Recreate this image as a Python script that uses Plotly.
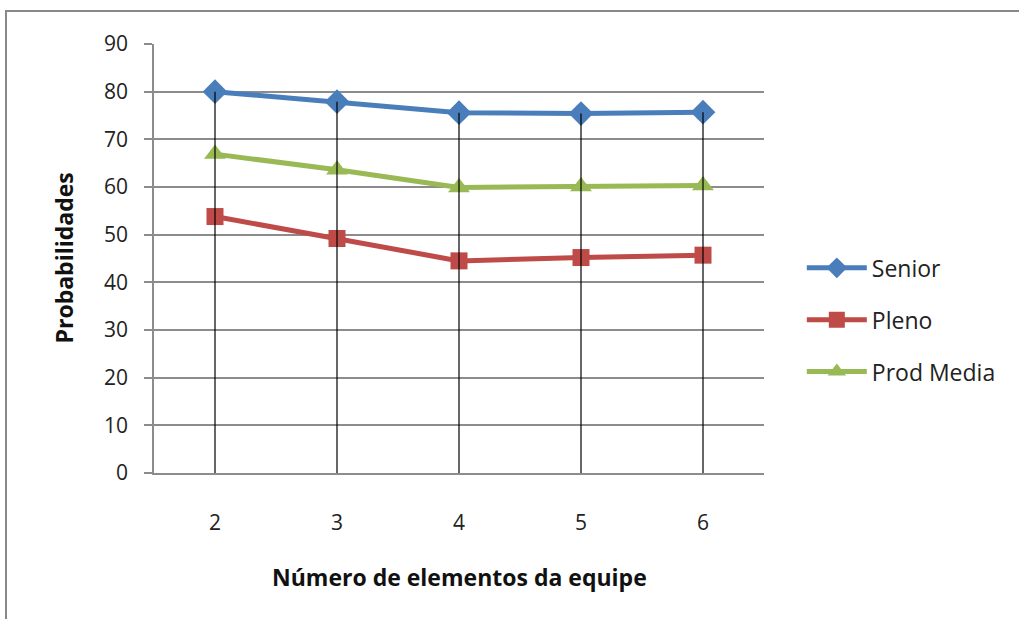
import plotly.graph_objects as go

categories = ["2", "3", "4", "5", "6"]
senior = [80.0, 77.9, 75.6, 75.4, 75.7]
pleno = [53.8, 49.2, 44.5, 45.2, 45.7]
prod_media = [66.9, 63.6, 59.9, 60.1, 60.3]
y_ticks = [0, 10, 20, 30, 40, 50, 60, 70, 80, 90]

FONT = "Open Sans"
GRID = "#8c8c8c"

fig = go.Figure()

series = [
    ("Senior", senior, "#4A7EBB", "diamond", 19),
    ("Pleno", pleno, "#BE4B48", "square", 17),
    ("Prod Media", prod_media, "#98B954", "triangle-up", 19),
]
for name, vals, color, sym, size in series:
    fig.add_trace(go.Scatter(
        x=categories, y=vals, name=name, mode="lines+markers",
        line=dict(color=color, width=5),
        marker=dict(symbol=sym, size=size, color=color),
        legendgroup=name,
    ))

# drop lines from the highest point down to the axis
dx, dy = [], []
for i, c in enumerate(categories):
    top = max(senior[i], pleno[i], prod_media[i])
    dx += [c, c, None]
    dy += [0, top, None]
fig.add_trace(go.Scatter(x=dx, y=dy, mode="lines", showlegend=False,
                         line=dict(color="black", width=1.2), hoverinfo="skip"))

fig.update_layout(
    width=1019, height=619,
    margin=dict(l=154, r=255, t=44, b=146),
    paper_bgcolor="white", plot_bgcolor="white",
    font=dict(family=FONT, size=20, color="#222"),
    legend=dict(x=1.062, y=0.357, xanchor="left", yanchor="middle",
                font=dict(size=23, color="#222"), itemwidth=60,
                tracegroupgap=19, bgcolor="rgba(0,0,0,0)"),
    xaxis=dict(type="category", range=[-0.5, 4.5], showgrid=False,
               showline=True, linecolor=GRID, linewidth=1.5, ticks="",
               ticklabelstandoff=30, tickfont=dict(size=21)),
    yaxis=dict(range=[0, 90], tickvals=y_ticks, showgrid=True, gridcolor=GRID,
               gridwidth=1.5, showline=True, linecolor=GRID, linewidth=1.5,
               ticks="outside", ticklen=8, tickcolor=GRID, tickwidth=1.5,
               ticklabelstandoff=12, tickfont=dict(size=21), zeroline=False),
    shapes=[dict(type="rect", xref="paper", yref="paper",
                 x0=-0.2426, x1=1.5, y0=-0.5, y1=1.0769,
                 line=dict(color="#888", width=2), layer="below")],
    annotations=[
        dict(text="<b>Número de elementos da equipe</b>", xref="paper", yref="paper",
             x=0.5, y=(473 - 577) / 429, xanchor="center", yanchor="middle",
             showarrow=False, font=dict(size=23, color="#111")),
        dict(text="<b>Probabilidades</b>", xref="paper", yref="paper",
             x=(63 - 154) / 610, y=0.5, xanchor="center", yanchor="middle",
             textangle=-90, showarrow=False, font=dict(size=23, color="#111")),
    ],
)

fig.write_html("out.html", config={"displayModeBar": False},
               post_script="document.body.style.margin='0';")
